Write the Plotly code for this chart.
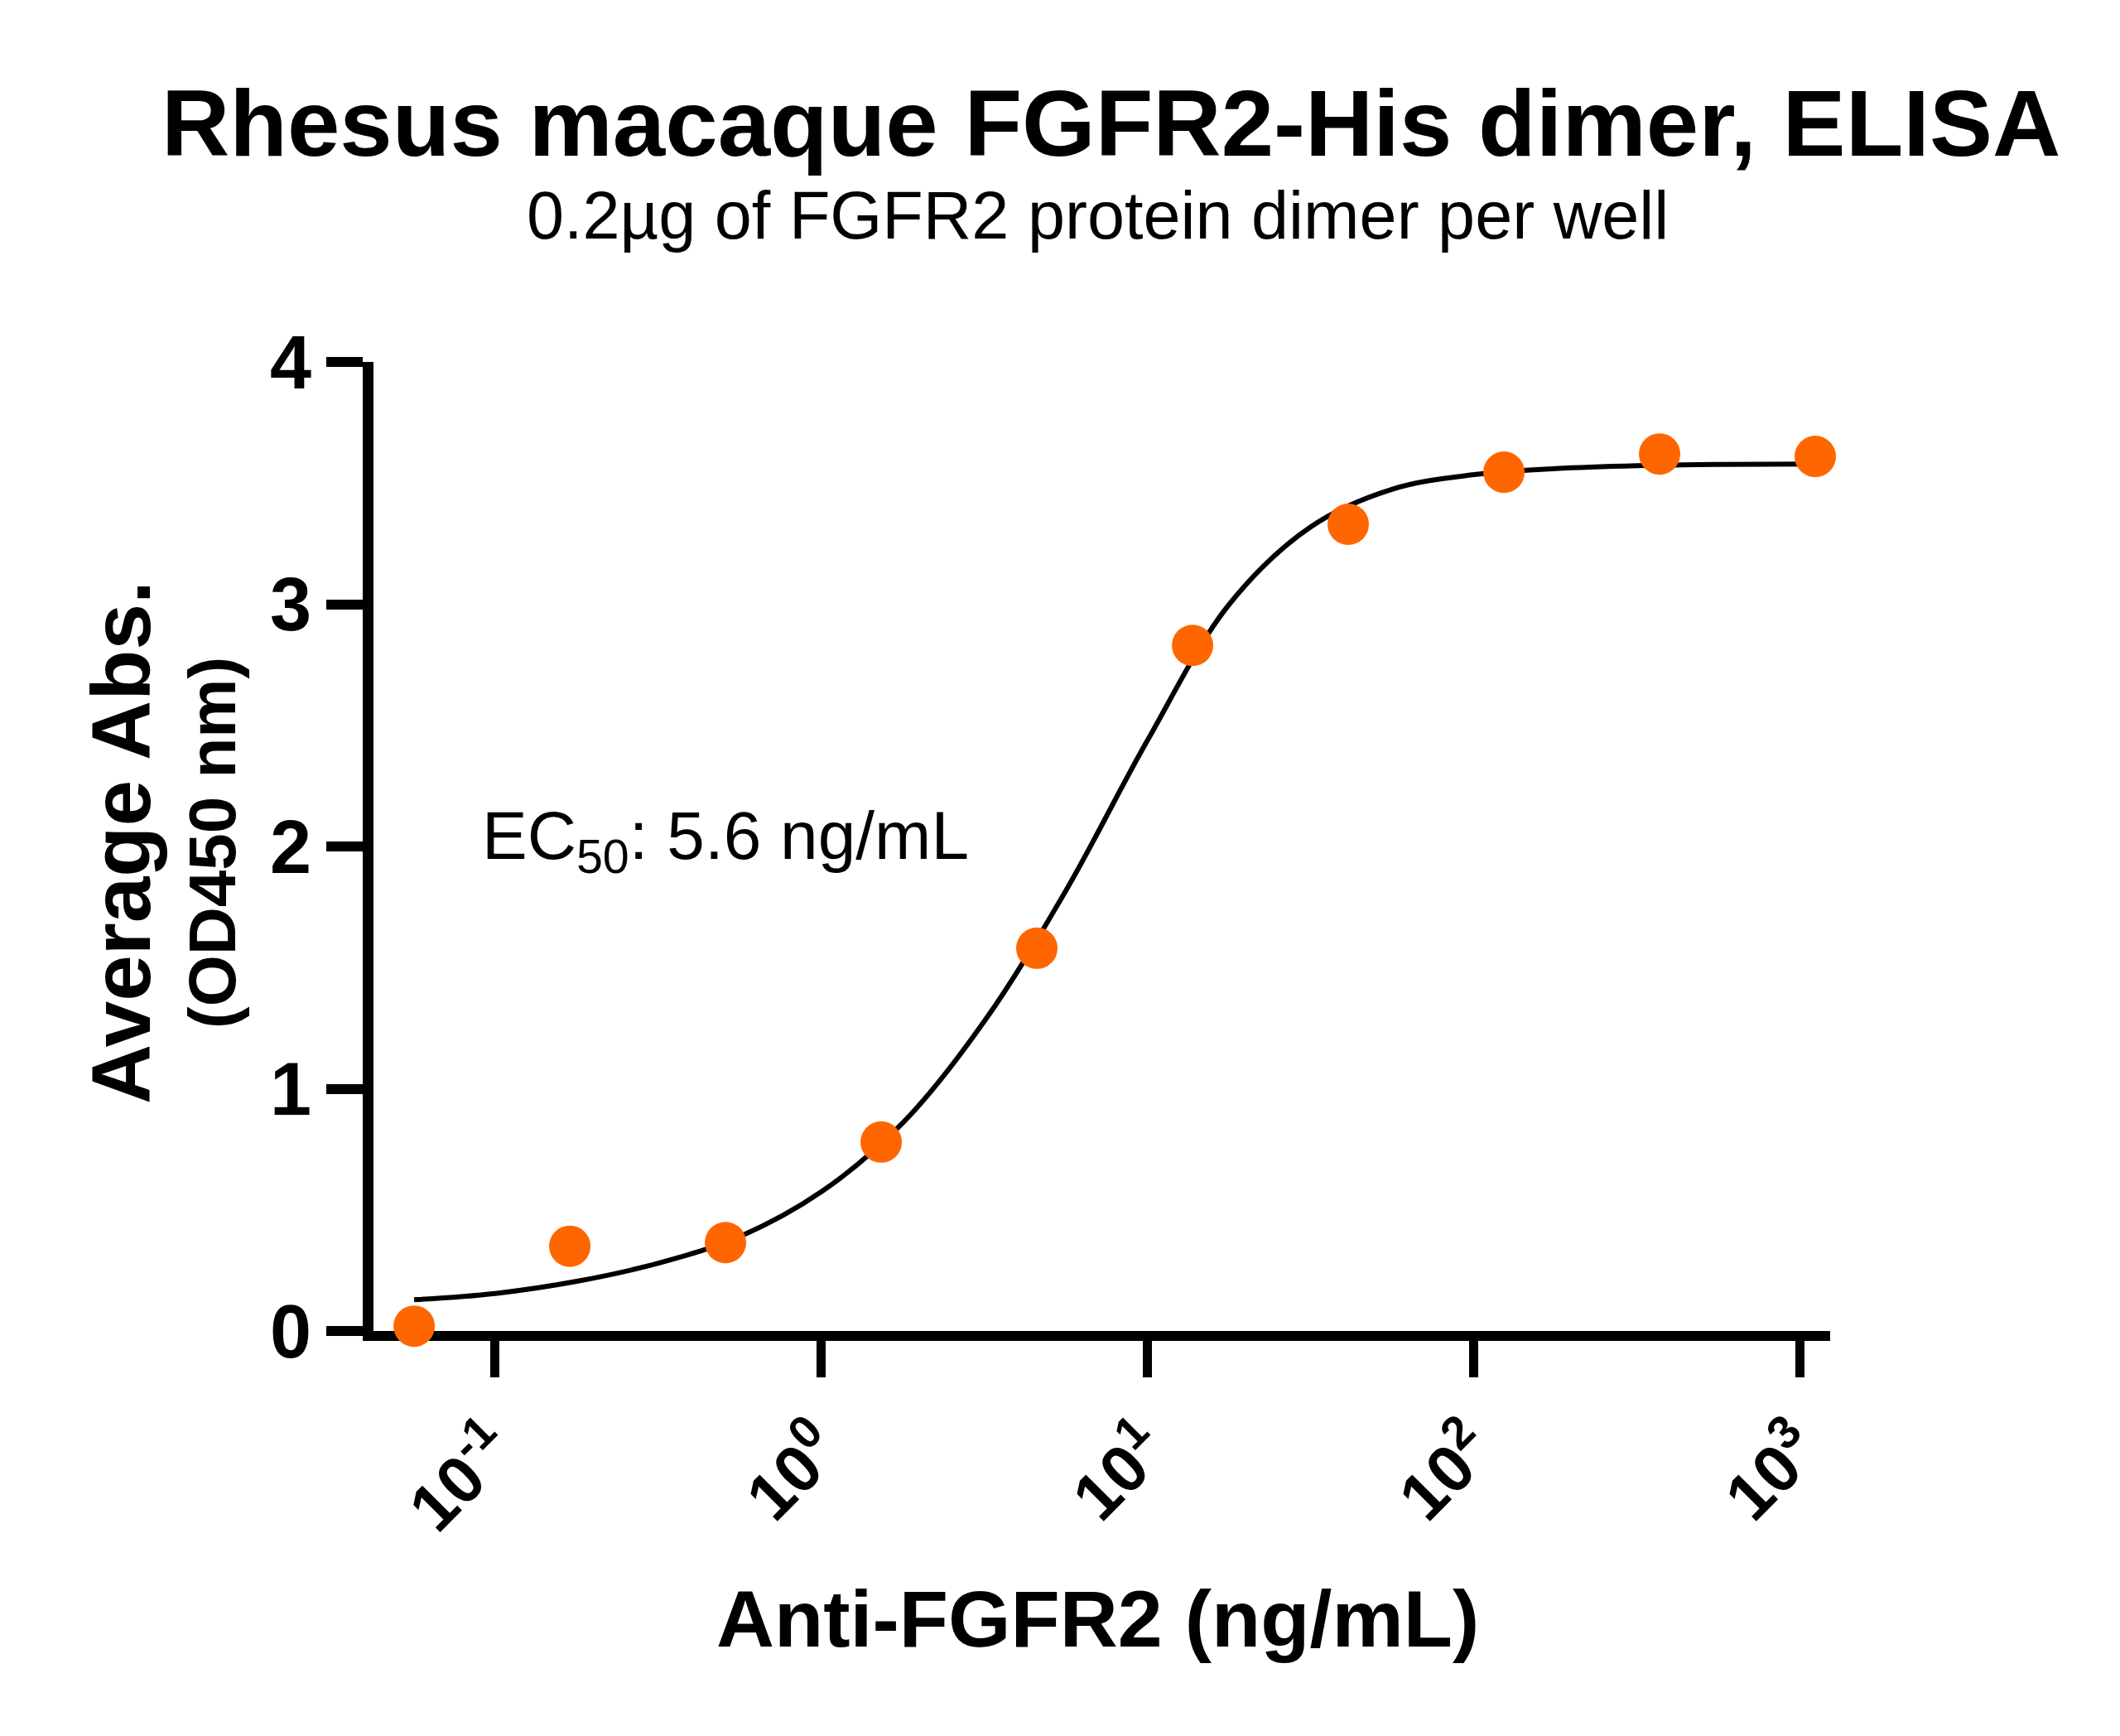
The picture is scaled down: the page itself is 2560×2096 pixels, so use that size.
import plotly.graph_objects as go

# Measured data (Anti-FGFR2 concentration in ng/mL, average absorbance OD450)
conc = [0.05644, 0.1693, 0.508, 1.524, 4.572, 13.72, 41.15, 123.5, 370.4, 1111.1]
od450 = [0.02, 0.35, 0.365, 0.78, 1.58, 2.83, 3.33, 3.545, 3.62, 3.61]

# Fitted curve
curve_x = [0.05644, 0.1, 0.1778, 0.3162, 0.5623, 1.0, 1.778, 3.162, 5.623, 10.0,
           17.78, 31.62, 56.23, 100.0, 177.8, 316.2, 562.3, 1111.1]
curve_y = [0.129, 0.155, 0.205, 0.28, 0.39, 0.575, 0.86, 1.28, 1.82, 2.44,
           3.0, 3.32, 3.475, 3.535, 3.56, 3.572, 3.577, 3.579]

x_tickvals = [0.1, 1, 10, 100, 1000]
x_ticktext = ["10<sup>-1</sup>", "10<sup>0</sup>", "10<sup>1</sup>", "10<sup>2</sup>", "10<sup>3</sup>"]
y_tickvals = [0, 1, 2, 3, 4]
y_ticktext = ["0", "1", "2", "3", "4"]

FONT = "Liberation Sans, Arial, Helvetica, sans-serif"

fig = go.Figure()
fig.add_trace(go.Scatter(x=curve_x, y=curve_y, mode="lines",
                         line=dict(color="black", width=6, shape="spline", smoothing=1.0),
                         hoverinfo="skip", showlegend=False))
fig.add_trace(go.Scatter(x=conc, y=od450, mode="markers",
                         marker=dict(color="#FF6600", size=50, line=dict(width=0)),
                         cliponaxis=False, showlegend=False))

fig.update_layout(
    width=2560, height=2096,
    margin=dict(l=443, r=358, t=429, b=497),
    paper_bgcolor="white", plot_bgcolor="white",
    font=dict(family=FONT, color="black"),
    xaxis=dict(type="log", range=[-1.373, 3.0914], showgrid=False, zeroline=False,
               showline=True, linecolor="black", linewidth=12,
               ticks="outside", ticklen=44, tickwidth=11, tickcolor="black",
               tickvals=x_tickvals, ticktext=x_ticktext, tickangle=-45,
               tickfont=dict(family=FONT, size=80, color="black", weight="bold"),
               ticklabelstandoff=8, layer="below traces"),
    yaxis=dict(range=[0, 4], showgrid=False, zeroline=False,
               showline=True, linecolor="black", linewidth=13,
               ticks="outside", ticklen=44, tickwidth=12, tickcolor="black",
               tickvals=y_tickvals, ticktext=y_ticktext,
               tickfont=dict(family=FONT, size=90, color="black", weight="bold"),
               layer="below traces"),
    annotations=[
        dict(text="<b>Rhesus macaque FGFR2-His dimer, ELISA</b>", xref="paper", yref="paper",
             x=0.5065, y=1.247, xanchor="center", yanchor="middle", showarrow=False,
             font=dict(family=FONT, size=114, color="black")),
        dict(text="0.2µg of FGFR2 protein dimer per well", xref="paper", yref="paper",
             x=0.497, y=1.1513, xanchor="center", yanchor="middle", showarrow=False,
             font=dict(family=FONT, size=81, color="black")),
        dict(text="<b>Anti-FGFR2 (ng/mL)</b>", xref="paper", yref="paper",
             x=0.497, y=-0.2974, xanchor="center", yanchor="middle", showarrow=False,
             font=dict(family=FONT, size=97, color="black")),
        dict(text="<b>Average Abs.</b>", xref="paper", yref="paper",
             x=-0.1734, y=0.5043, xanchor="center", yanchor="middle", showarrow=False,
             textangle=-90, font=dict(family=FONT, size=100, color="black")),
        dict(text="<b>(OD450 nm)</b>", xref="paper", yref="paper",
             x=-0.1103, y=0.5043, xanchor="center", yanchor="middle", showarrow=False,
             textangle=-90, font=dict(family=FONT, size=80, color="black")),
        dict(text="EC<sub>50</sub>: 5.6 ng/mL", xref="paper", yref="paper",
             x=0.0733, y=0.5068, xanchor="left", yanchor="middle", showarrow=False,
             font=dict(family=FONT, size=82, color="black")),
    ],
)

fig.write_html("out.html")
